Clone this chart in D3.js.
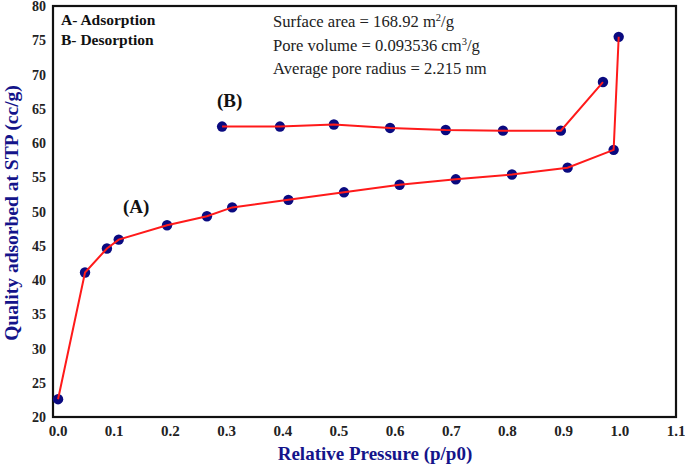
<!DOCTYPE html>
<html><head><meta charset="utf-8">
<script src="https://cdn.jsdelivr.net/npm/d3@7"></script>
<style>body{margin:0;background:#fff}svg{display:block}</style>
</head><body>
<script>
const xTicks = [0.0,0.1,0.2,0.3,0.4,0.5,0.6,0.7,0.8,0.9,1.0,1.1];
const yTicks = [20,25,30,35,40,45,50,55,60,65,70,75,80];
const adsP = [0.0,0.048,0.087,0.108,0.194,0.265,0.31,0.41,0.509,0.608,0.708,0.808,0.907,0.989,0.998];
const adsQ = [22.6,41.1,44.6,45.9,48.0,49.3,50.6,51.7,52.8,53.9,54.7,55.4,56.4,59.0,75.5];
const desP = [0.292,0.395,0.491,0.591,0.69,0.792,0.895,0.97];
const desQ = [62.4,62.4,62.7,62.2,61.9,61.8,61.8,68.9];
const legendLines = ["A- Adsorption","B- Desorption"];

const W=685,H=467;
const svg=d3.select("body").append("svg").attr("width",W).attr("height",H);
const x=d3.scaleLinear().domain([-0.009,1.1]).range([53,676]);
const y=d3.scaleLinear().domain([20,80]).range([417,6]);
const serif="'Liberation Serif','Times New Roman',serif";

// frame
svg.append("rect").attr("x",53).attr("y",6).attr("width",676-53).attr("height",417-6)
  .attr("fill","none").attr("stroke","#111").attr("stroke-width",2.2);

// tick labels
svg.selectAll(".xt").data(xTicks).enter().append("text")
  .attr("x",d=>x(d)).attr("y",436).attr("text-anchor","middle")
  .attr("font-family",serif).attr("font-weight","bold").attr("font-size",15).attr("fill","#222")
  .text(d=>d.toFixed(1));
svg.selectAll(".yt").data(yTicks).enter().append("text")
  .attr("x",46).attr("y",d=>y(d)+5).attr("text-anchor","end")
  .attr("font-family",serif).attr("font-weight","bold").attr("font-size",14).attr("fill","#222")
  .text(d=>d);

// axis titles
svg.append("text").attr("x",375).attr("y",460).attr("text-anchor","middle")
  .attr("font-family",serif).attr("font-weight","bold").attr("font-size",19).attr("fill","#14148a")
  .text("Relative Pressure (p/p0)");
svg.append("text").attr("transform","translate(18,213) rotate(-90)").attr("text-anchor","middle")
  .attr("font-family",serif).attr("font-weight","bold").attr("font-size",19.5).attr("fill","#14148a")
  .text("Quality adsorbed at STP (cc/g)");

// legend text
legendLines.forEach((t,i)=>{
  svg.append("text").attr("x",61).attr("y",25+i*20)
    .attr("font-family",serif).attr("font-weight","bold").attr("font-size",15.5).attr("fill","#111").text(t);
});

// info text
const info=svg.append("g").attr("font-family",serif).attr("font-size",16.6).attr("fill","#222");
let t1=info.append("text").attr("x",273).attr("y",27);
t1.append("tspan").text("Surface area = 168.92 m");
t1.append("tspan").attr("font-size",10.5).attr("dy",-6).text("2");
t1.append("tspan").attr("dy",6).text("/g");
let t2=info.append("text").attr("x",273).attr("y",51);
t2.append("tspan").text("Pore volume = 0.093536 cm");
t2.append("tspan").attr("font-size",10.5).attr("dy",-6).text("3");
t2.append("tspan").attr("dy",6).text("/g");
info.append("text").attr("x",273).attr("y",74).text("Average pore radius = 2.215 nm");

// curve labels
svg.append("text").attr("x",217).attr("y",107).attr("font-family",serif).attr("font-weight","bold")
  .attr("font-size",19).attr("fill","#111").text("(B)");
svg.append("text").attr("x",123).attr("y",213).attr("font-family",serif).attr("font-weight","bold")
  .attr("font-size",19).attr("fill","#111").text("(A)");

// data
const ads=adsP.map((p,i)=>[p,adsQ[i]]);
const des=desP.map((p,i)=>[p,desQ[i]]);
const line=d3.line().x(d=>x(d[0])).y(d=>y(d[1]));
[ads,des].forEach(s=>{
  svg.append("g").selectAll("circle").data(s).enter().append("circle")
    .attr("cx",d=>x(d[0])).attr("cy",d=>y(d[1])).attr("r",5.2).attr("fill","#0a0a80");
});
[ads,des].forEach(s=>{
  svg.append("path").attr("d",line(s)).attr("fill","none").attr("stroke","#ff1a1a").attr("stroke-width",2);
});
</script>
</body></html>
